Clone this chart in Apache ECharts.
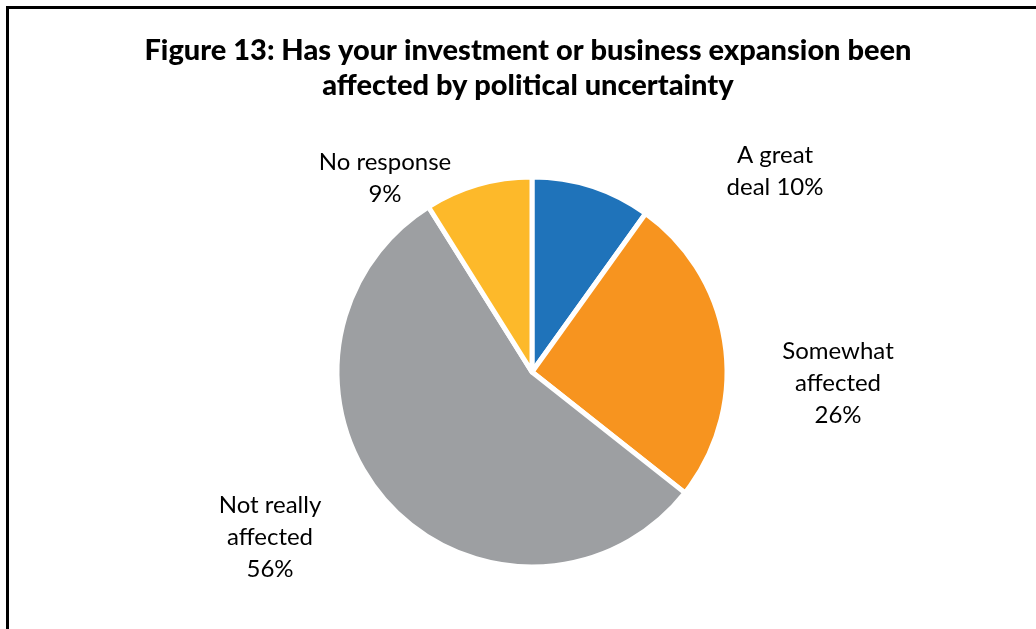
<!DOCTYPE html>
<html>
<head>
<meta charset="utf-8">
<script src="https://cdn.jsdelivr.net/npm/echarts@6/dist/echarts.min.js"></script>
<style>
  html, body { margin: 0; padding: 0; background: #ffffff; }
  #chart { width: 1036px; height: 629px; }
</style>
</head>
<body>
<div id="chart"></div>
<script>
// Survey responses, in drawing order (clockwise from 12 o'clock)
const categories = ['A great deal', 'Somewhat affected', 'Not really affected', 'No response'];
const shares = [10, 26, 56, 9];
const labelTexts = ['A great\ndeal 10%', 'Somewhat\naffected\n26%', 'Not really\naffected\n56%', 'No response\n9%'];
const sliceColors = ['#1F73BA', '#F7941F', '#9D9FA2', '#FDB92A'];
// Where each slice's label block is centred (pixels)
const labelSpots = [[775, 171], [838, 383], [270, 537], [385, 178]];

const chart = echarts.init(document.getElementById('chart'), null, { renderer: 'canvas' });

chart.setOption({
  backgroundColor: '#ffffff',
  animation: false,
  title: {
    text: 'Figure 13: Has your investment or business expansion been\naffected by political uncertainty',
    left: 523,
    top: 28,
    textAlign: 'center',
    textStyle: {
      fontFamily: 'Lato',
      fontWeight: 900,
      fontSize: 29,
      lineHeight: 35,
      color: '#000000'
    }
  },
  graphic: [{
    type: 'polyline',
    shape: { points: [[7.5, 629], [7.5, 7.5], [1036, 7.5]] },
    style: { stroke: '#000000', lineWidth: 3, fill: null }
  }],
  series: [{
    type: 'pie',
    center: [532, 372],
    radius: 195,
    startAngle: 90,
    clockwise: true,
    itemStyle: { borderColor: '#ffffff', borderWidth: 5 },
    label: {
      show: true,
      position: 'outside',
      formatter: p => labelTexts[p.dataIndex],
      fontFamily: 'Lato',
      fontSize: 24,
      lineHeight: 32,
      color: '#000000',
      align: 'center'
    },
    labelLine: { show: false },
    labelLayout: p => ({
      x: labelSpots[p.dataIndex][0],
      y: labelSpots[p.dataIndex][1],
      align: 'center',
      verticalAlign: 'middle'
    }),
    emphasis: { disabled: true },
    data: categories.map((name, i) => ({
      name: name,
      value: shares[i],
      itemStyle: { color: sliceColors[i] }
    }))
  }]
});
</script>
</body>
</html>
